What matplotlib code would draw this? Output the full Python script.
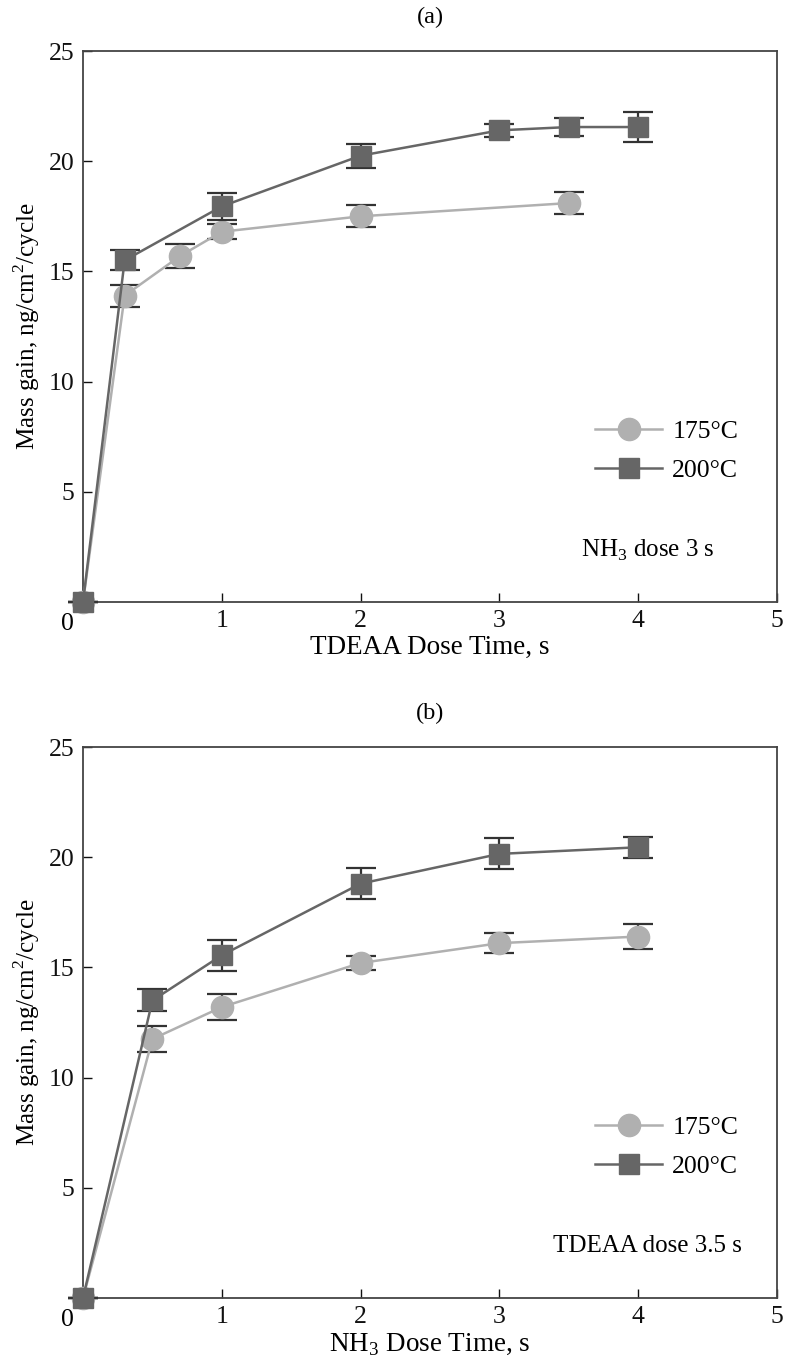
import matplotlib
matplotlib.use("Agg")
import matplotlib.pyplot as plt

plt.rcParams["font.family"] = ["Liberation Serif", "DejaVu Serif"]
plt.rcParams["mathtext.fontset"] = "custom"
plt.rcParams["mathtext.rm"] = "Liberation Serif"

# panel (a): TDEAA dose time, NH3 dose 3 s
a_x_175 = [0, 0.3, 0.7, 1, 2, 3.5]
a_y_175 = [0, 13.9, 15.7, 16.8, 17.5, 18.1]
a_e_175 = [0, 0.5, 0.55, 0.35, 0.5, 0.5]
a_x_200 = [0, 0.3, 1, 2, 3, 3.5, 4]
a_y_200 = [0, 15.5, 17.95, 20.25, 21.4, 21.55, 21.55]
a_e_200 = [0, 0.45, 0.6, 0.55, 0.3, 0.4, 0.7]

# panel (b): NH3 dose time, TDEAA dose 3.5 s
b_x_175 = [0, 0.5, 1, 2, 3, 4]
b_y_175 = [0, 11.75, 13.2, 15.2, 16.1, 16.4]
b_e_175 = [0, 0.6, 0.6, 0.3, 0.45, 0.55]
b_x_200 = [0, 0.5, 1, 2, 3, 4]
b_y_200 = [0, 13.5, 15.55, 18.8, 20.15, 20.45]
b_e_200 = [0, 0.5, 0.7, 0.7, 0.7, 0.47]

light = "#b0b0b0"
dark = "#666666"

fig = plt.figure(figsize=(7.85, 13.65), dpi=100)
ax_a = fig.add_axes([83 / 785, 763 / 1365, 694 / 785, 551 / 1365])
ax_b = fig.add_axes([83 / 785, 67 / 1365, 694 / 785, 551 / 1365])


def panel(ax, x1, y1, e1, x2, y2, e2, xlabel, note, tag, tag_y):
    eb = dict(fmt="none", ecolor="#333333", elinewidth=1.6, capsize=10.5,
              capthick=1.6, clip_on=False)
    ax.errorbar(x1, y1, yerr=e1, zorder=2, **eb)
    ax.plot(x1, y1, color=light, marker="o", ms=16, lw=1.8, label="175°C",
            clip_on=False, zorder=3)
    ax.errorbar(x2, y2, yerr=e2, zorder=4, **eb)
    ax.plot(x2, y2, color=dark, marker="s", ms=14.5, lw=1.8, label="200°C",
            clip_on=False, zorder=5)
    ax.set_xlim(0, 5)
    ax.set_ylim(0, 25)
    ax.set_xticks([0, 1, 2, 3, 4, 5])
    ax.set_xticklabels(["", "1", "2", "3", "4", "5"])
    ax.set_yticks([5, 10, 15, 20, 25])
    ax.tick_params(direction="in", length=6.5, width=1, labelsize=18.5, pad=6,
                   colors="#111111")
    for s in ax.spines.values():
        s.set_color("#444444")
        s.set_linewidth(1.3)
    ax.annotate("0", xy=(0, 0), xycoords="data", xytext=(-11, -16),
                textcoords="offset points", ha="center", va="center", fontsize=18.5)
    ax.set_xlabel(xlabel, fontsize=19.5, labelpad=2)
    ax.set_ylabel("Mass gain, ng/cm$^2$/cycle", fontsize=18, labelpad=5)
    ax.text(4.07, 2.35, note, ha="center", va="center", fontsize=18)
    ax.legend(loc="upper left", bbox_to_anchor=(0.738, 0.33), frameon=False,
              fontsize=18.5, handlelength=2.6, handletextpad=0.4,
              labelspacing=0.6, borderpad=0, borderaxespad=0)
    fig.text(430 / 785, 1 - tag_y / 1365, tag, ha="center", va="center", fontsize=17.5)


panel(ax_a, a_x_175, a_y_175, a_e_175, a_x_200, a_y_200, a_e_200,
      "TDEAA Dose Time, s", "NH$_3$ dose 3 s", "(a)", 17)
panel(ax_b, b_x_175, b_y_175, b_e_175, b_x_200, b_y_200, b_e_200,
      "NH$_3$ Dose Time, s", "TDEAA dose 3.5 s", "(b)", 713)

fig.savefig("out.png", dpi=100)
